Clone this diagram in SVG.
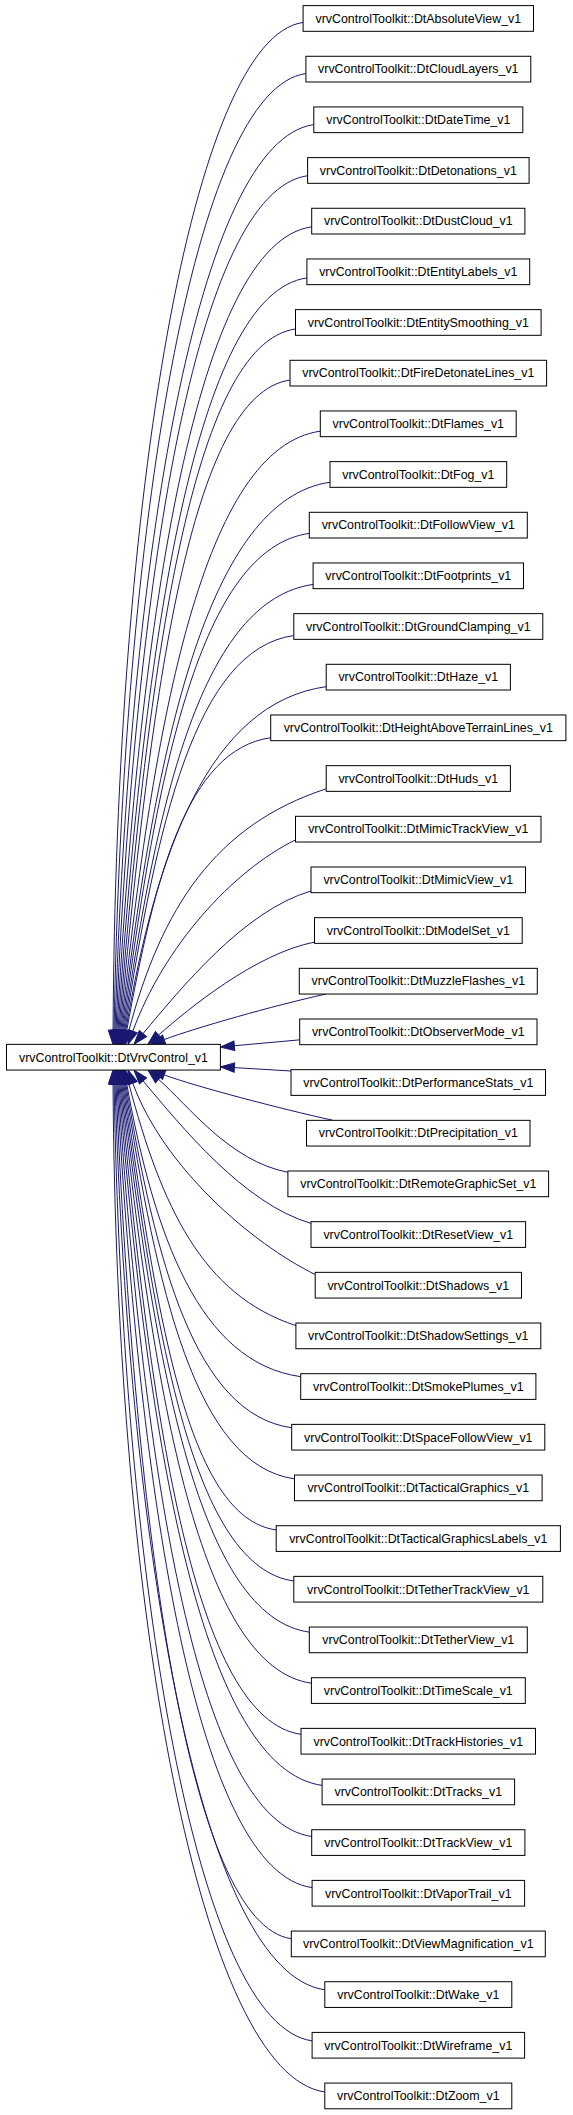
<svg xmlns="http://www.w3.org/2000/svg" width="573" height="2115" viewBox="0 0 573 2115">
<style>
.n rect{fill:#fff;stroke:#000;stroke-width:1}
.n text{font-family:"Liberation Sans",Arial,sans-serif;font-size:12.4px;text-anchor:middle;fill:#000}
.e path{fill:none;stroke:#191970;stroke-width:1;marker-end:url(#ah)}
</style>
<defs>
<marker id="ah" markerUnits="userSpaceOnUse" orient="auto" refX="0" refY="0" markerWidth="16" markerHeight="12" overflow="visible">
<path d="M0,-4.7 L14,0 L0,4.7 Z" fill="#191970" stroke="#191970" stroke-width="1"/>
</marker>
</defs>
<rect width="573" height="2115" fill="#fff"/>
<g id="edges" class="e">
<path d="M303.1,22.45 C192.1,38.0 115.7,499.2 113.07,1030.35"/>
<path d="M305.9,73.54 C193.8,89.2 122.9,526.2 114.05,1030.35"/>
<path d="M313.8,124.63 C197.7,140.9 129.3,553.3 115.02,1030.36"/>
<path d="M307.6,175.72 C195.7,191.4 135.1,580.4 115.99,1030.36"/>
<path d="M311.7,226.81 C197.9,242.8 140.3,607.5 116.97,1030.37"/>
<path d="M306.9,277.91 C196.5,293.4 144.6,634.7 117.94,1030.38"/>
<path d="M295.5,329.0 C192.3,343.5 148.4,662.0 118.92,1030.39"/>
<path d="M290.0,380.09 C190.6,394.1 151.6,689.2 119.89,1030.41"/>
<path d="M320.3,431.18 C203.8,447.6 154.0,716.3 120.87,1030.43"/>
<path d="M330.0,482.27 C208.4,499.4 155.7,743.5 121.84,1030.45"/>
<path d="M309.3,533.36 C200.4,548.7 156.7,770.7 122.81,1030.47"/>
<path d="M313.1,584.45 C202.5,600.0 157.2,797.8 123.79,1030.49"/>
<path d="M293.8,635.54 C195.1,649.4 156.9,824.8 124.76,1030.52"/>
<path d="M326.2,686.63 C209.1,703.0 155.9,851.9 125.73,1030.55"/>
<path d="M270.7,737.72 C186.5,749.5 154.3,878.8 126.71,1030.58"/>
<path d="M326.2,788.82 C215.5,824.9 161.6,907.6 128.8,1030.82"/>
<path d="M295.5,839.91 C232.5,870.7 163.7,946.7 132.8,1031.2"/>
<path d="M311.0,891.0 C243.8,910.6 181.6,987.7 143.0,1033.6"/>
<path d="M314.5,942.09 C255.7,953.5 188.6,1008.7 158.5,1035.1"/>
<path d="M326.0,994.03 C272.3,1005.9 197.0,1027.5 164.15,1039.5"/>
<path d="M299.7,1039.85 L234.34,1045.74"/>
<path d="M291.0,1071.0 L234.4,1067.6"/>
<path d="M333.2,1120.37 C279.5,1108.5 197.0,1086.9 164.15,1074.9"/>
<path d="M287.9,1172.31 C229.1,1160.9 188.6,1105.7 158.5,1079.3"/>
<path d="M311.0,1223.4 C243.8,1203.8 181.6,1126.7 143.0,1080.8"/>
<path d="M315.2,1274.49 C252.2,1243.7 163.7,1167.7 132.8,1083.2"/>
<path d="M295.9,1325.58 C202.2,1295.0 161.6,1206.8 128.8,1083.58"/>
<path d="M300.7,1376.68 C199.0,1362.4 154.3,1235.6 126.71,1083.82"/>
<path d="M291.7,1427.77 C194.8,1414.2 155.9,1262.5 125.73,1083.85"/>
<path d="M294.5,1478.86 C195.4,1465.0 156.9,1289.6 124.76,1083.88"/>
<path d="M276.2,1529.95 C187.2,1517.5 157.2,1316.6 123.79,1083.91"/>
<path d="M293.8,1581.04 C193.9,1567.0 156.7,1343.7 122.81,1083.93"/>
<path d="M309.3,1632.13 C199.8,1616.7 155.7,1370.9 121.84,1083.95"/>
<path d="M311.4,1683.22 C200.1,1667.6 154.0,1398.1 120.87,1083.97"/>
<path d="M301.0,1734.31 C195.2,1719.4 151.6,1425.2 119.89,1083.99"/>
<path d="M322.1,1785.4 C203.4,1768.7 148.4,1452.4 118.92,1084.01"/>
<path d="M311.7,1836.49 C198.5,1820.6 144.6,1479.7 117.94,1084.02"/>
<path d="M312.1,1887.59 C198.1,1871.6 140.3,1506.9 116.97,1084.03"/>
<path d="M291.3,1938.68 C188.9,1924.3 135.1,1534.0 115.99,1084.04"/>
<path d="M324.8,1989.77 C202.2,1972.6 129.3,1561.1 115.02,1084.04"/>
<path d="M312.1,2040.86 C196.4,2024.7 122.9,1588.2 114.05,1084.05"/>
<path d="M324.8,2091.95 C201.1,2074.6 115.7,1615.2 113.07,1084.05"/>
</g>
<g id="node_parent" class="n"><rect x="6.5" y="1044.35" width="213.9" height="25.7"/><text x="113.45" y="1061.5">vrvControlToolkit::DtVrvControl_v1</text></g>
<g id="node0" class="n"><rect x="303.1" y="5.6" width="230.4" height="25.7"/><text x="418.3" y="22.75">vrvControlToolkit::DtAbsoluteView_v1</text></g>
<g id="node1" class="n"><rect x="305.9" y="56.27" width="224.9" height="25.7"/><text x="418.3" y="73.42">vrvControlToolkit::DtCloudLayers_v1</text></g>
<g id="node2" class="n"><rect x="313.8" y="106.94" width="209.0" height="25.7"/><text x="418.3" y="124.09">vrvControlToolkit::DtDateTime_v1</text></g>
<g id="node3" class="n"><rect x="307.6" y="157.61" width="221.5" height="25.7"/><text x="418.3" y="174.76">vrvControlToolkit::DtDetonations_v1</text></g>
<g id="node4" class="n"><rect x="311.7" y="208.28" width="213.2" height="25.7"/><text x="418.3" y="225.43">vrvControlToolkit::DtDustCloud_v1</text></g>
<g id="node5" class="n"><rect x="306.9" y="258.95" width="222.8" height="25.7"/><text x="418.3" y="276.1">vrvControlToolkit::DtEntityLabels_v1</text></g>
<g id="node6" class="n"><rect x="295.5" y="309.62" width="245.6" height="25.7"/><text x="418.3" y="326.77">vrvControlToolkit::DtEntitySmoothing_v1</text></g>
<g id="node7" class="n"><rect x="290.0" y="360.29" width="256.6" height="25.7"/><text x="418.3" y="377.44">vrvControlToolkit::DtFireDetonateLines_v1</text></g>
<g id="node8" class="n"><rect x="320.3" y="410.96" width="195.9" height="25.7"/><text x="418.3" y="428.11">vrvControlToolkit::DtFlames_v1</text></g>
<g id="node9" class="n"><rect x="330.0" y="461.63" width="176.7" height="25.7"/><text x="418.3" y="478.78">vrvControlToolkit::DtFog_v1</text></g>
<g id="node10" class="n"><rect x="309.3" y="512.3" width="218.0" height="25.7"/><text x="418.3" y="529.45">vrvControlToolkit::DtFollowView_v1</text></g>
<g id="node11" class="n"><rect x="313.1" y="562.97" width="210.4" height="25.7"/><text x="418.3" y="580.12">vrvControlToolkit::DtFootprints_v1</text></g>
<g id="node12" class="n"><rect x="293.8" y="613.64" width="249.0" height="25.7"/><text x="418.3" y="630.79">vrvControlToolkit::DtGroundClamping_v1</text></g>
<g id="node13" class="n"><rect x="326.2" y="664.31" width="184.2" height="25.7"/><text x="418.3" y="681.46">vrvControlToolkit::DtHaze_v1</text></g>
<g id="node14" class="n"><rect x="270.7" y="714.98" width="295.2" height="25.7"/><text x="418.3" y="732.13">vrvControlToolkit::DtHeightAboveTerrainLines_v1</text></g>
<g id="node15" class="n"><rect x="326.2" y="765.65" width="184.2" height="25.7"/><text x="418.3" y="782.8">vrvControlToolkit::DtHuds_v1</text></g>
<g id="node16" class="n"><rect x="295.5" y="816.32" width="245.5" height="25.7"/><text x="418.3" y="833.47">vrvControlToolkit::DtMimicTrackView_v1</text></g>
<g id="node17" class="n"><rect x="311.0" y="866.99" width="214.5" height="25.7"/><text x="418.3" y="884.14">vrvControlToolkit::DtMimicView_v1</text></g>
<g id="node18" class="n"><rect x="314.5" y="917.66" width="207.7" height="25.7"/><text x="418.3" y="934.81">vrvControlToolkit::DtModelSet_v1</text></g>
<g id="node19" class="n"><rect x="299.3" y="968.33" width="238.0" height="25.7"/><text x="418.3" y="985.48">vrvControlToolkit::DtMuzzleFlashes_v1</text></g>
<g id="node20" class="n"><rect x="299.7" y="1019.0" width="237.3" height="25.7"/><text x="418.3" y="1036.15">vrvControlToolkit::DtObserverMode_v1</text></g>
<g id="node21" class="n"><rect x="291.0" y="1069.67" width="254.5" height="25.7"/><text x="418.3" y="1086.82">vrvControlToolkit::DtPerformanceStats_v1</text></g>
<g id="node22" class="n"><rect x="306.5" y="1120.34" width="223.5" height="25.7"/><text x="418.3" y="1137.49">vrvControlToolkit::DtPrecipitation_v1</text></g>
<g id="node23" class="n"><rect x="287.9" y="1171.01" width="260.7" height="25.7"/><text x="418.3" y="1188.16">vrvControlToolkit::DtRemoteGraphicSet_v1</text></g>
<g id="node24" class="n"><rect x="311.0" y="1221.68" width="214.6" height="25.7"/><text x="418.3" y="1238.83">vrvControlToolkit::DtResetView_v1</text></g>
<g id="node25" class="n"><rect x="315.2" y="1272.35" width="206.3" height="25.7"/><text x="418.3" y="1289.5">vrvControlToolkit::DtShadows_v1</text></g>
<g id="node26" class="n"><rect x="295.9" y="1323.02" width="244.9" height="25.7"/><text x="418.3" y="1340.17">vrvControlToolkit::DtShadowSettings_v1</text></g>
<g id="node27" class="n"><rect x="300.7" y="1373.69" width="235.2" height="25.7"/><text x="418.3" y="1390.84">vrvControlToolkit::DtSmokePlumes_v1</text></g>
<g id="node28" class="n"><rect x="291.7" y="1424.36" width="253.1" height="25.7"/><text x="418.3" y="1441.51">vrvControlToolkit::DtSpaceFollowView_v1</text></g>
<g id="node29" class="n"><rect x="294.5" y="1475.03" width="247.6" height="25.7"/><text x="418.3" y="1492.18">vrvControlToolkit::DtTacticalGraphics_v1</text></g>
<g id="node30" class="n"><rect x="276.2" y="1525.7" width="284.2" height="25.7"/><text x="418.3" y="1542.85">vrvControlToolkit::DtTacticalGraphicsLabels_v1</text></g>
<g id="node31" class="n"><rect x="293.8" y="1576.37" width="249.0" height="25.7"/><text x="418.3" y="1593.52">vrvControlToolkit::DtTetherTrackView_v1</text></g>
<g id="node32" class="n"><rect x="309.3" y="1627.04" width="218.0" height="25.7"/><text x="418.3" y="1644.19">vrvControlToolkit::DtTetherView_v1</text></g>
<g id="node33" class="n"><rect x="311.4" y="1677.71" width="213.9" height="25.7"/><text x="418.3" y="1694.86">vrvControlToolkit::DtTimeScale_v1</text></g>
<g id="node34" class="n"><rect x="301.0" y="1728.38" width="234.5" height="25.7"/><text x="418.3" y="1745.53">vrvControlToolkit::DtTrackHistories_v1</text></g>
<g id="node35" class="n"><rect x="322.1" y="1779.05" width="192.5" height="25.7"/><text x="418.3" y="1796.2">vrvControlToolkit::DtTracks_v1</text></g>
<g id="node36" class="n"><rect x="311.7" y="1829.72" width="213.2" height="25.7"/><text x="418.3" y="1846.87">vrvControlToolkit::DtTrackView_v1</text></g>
<g id="node37" class="n"><rect x="312.1" y="1880.39" width="212.5" height="25.7"/><text x="418.3" y="1897.54">vrvControlToolkit::DtVaporTrail_v1</text></g>
<g id="node38" class="n"><rect x="291.3" y="1931.06" width="254.0" height="25.7"/><text x="418.3" y="1948.21">vrvControlToolkit::DtViewMagnification_v1</text></g>
<g id="node39" class="n"><rect x="324.8" y="1981.73" width="187.0" height="25.7"/><text x="418.3" y="1998.88">vrvControlToolkit::DtWake_v1</text></g>
<g id="node40" class="n"><rect x="312.1" y="2032.4" width="212.5" height="25.7"/><text x="418.3" y="2049.55">vrvControlToolkit::DtWireframe_v1</text></g>
<g id="node41" class="n"><rect x="324.8" y="2083.07" width="187.0" height="25.7"/><text x="418.3" y="2100.22">vrvControlToolkit::DtZoom_v1</text></g>
</svg>
